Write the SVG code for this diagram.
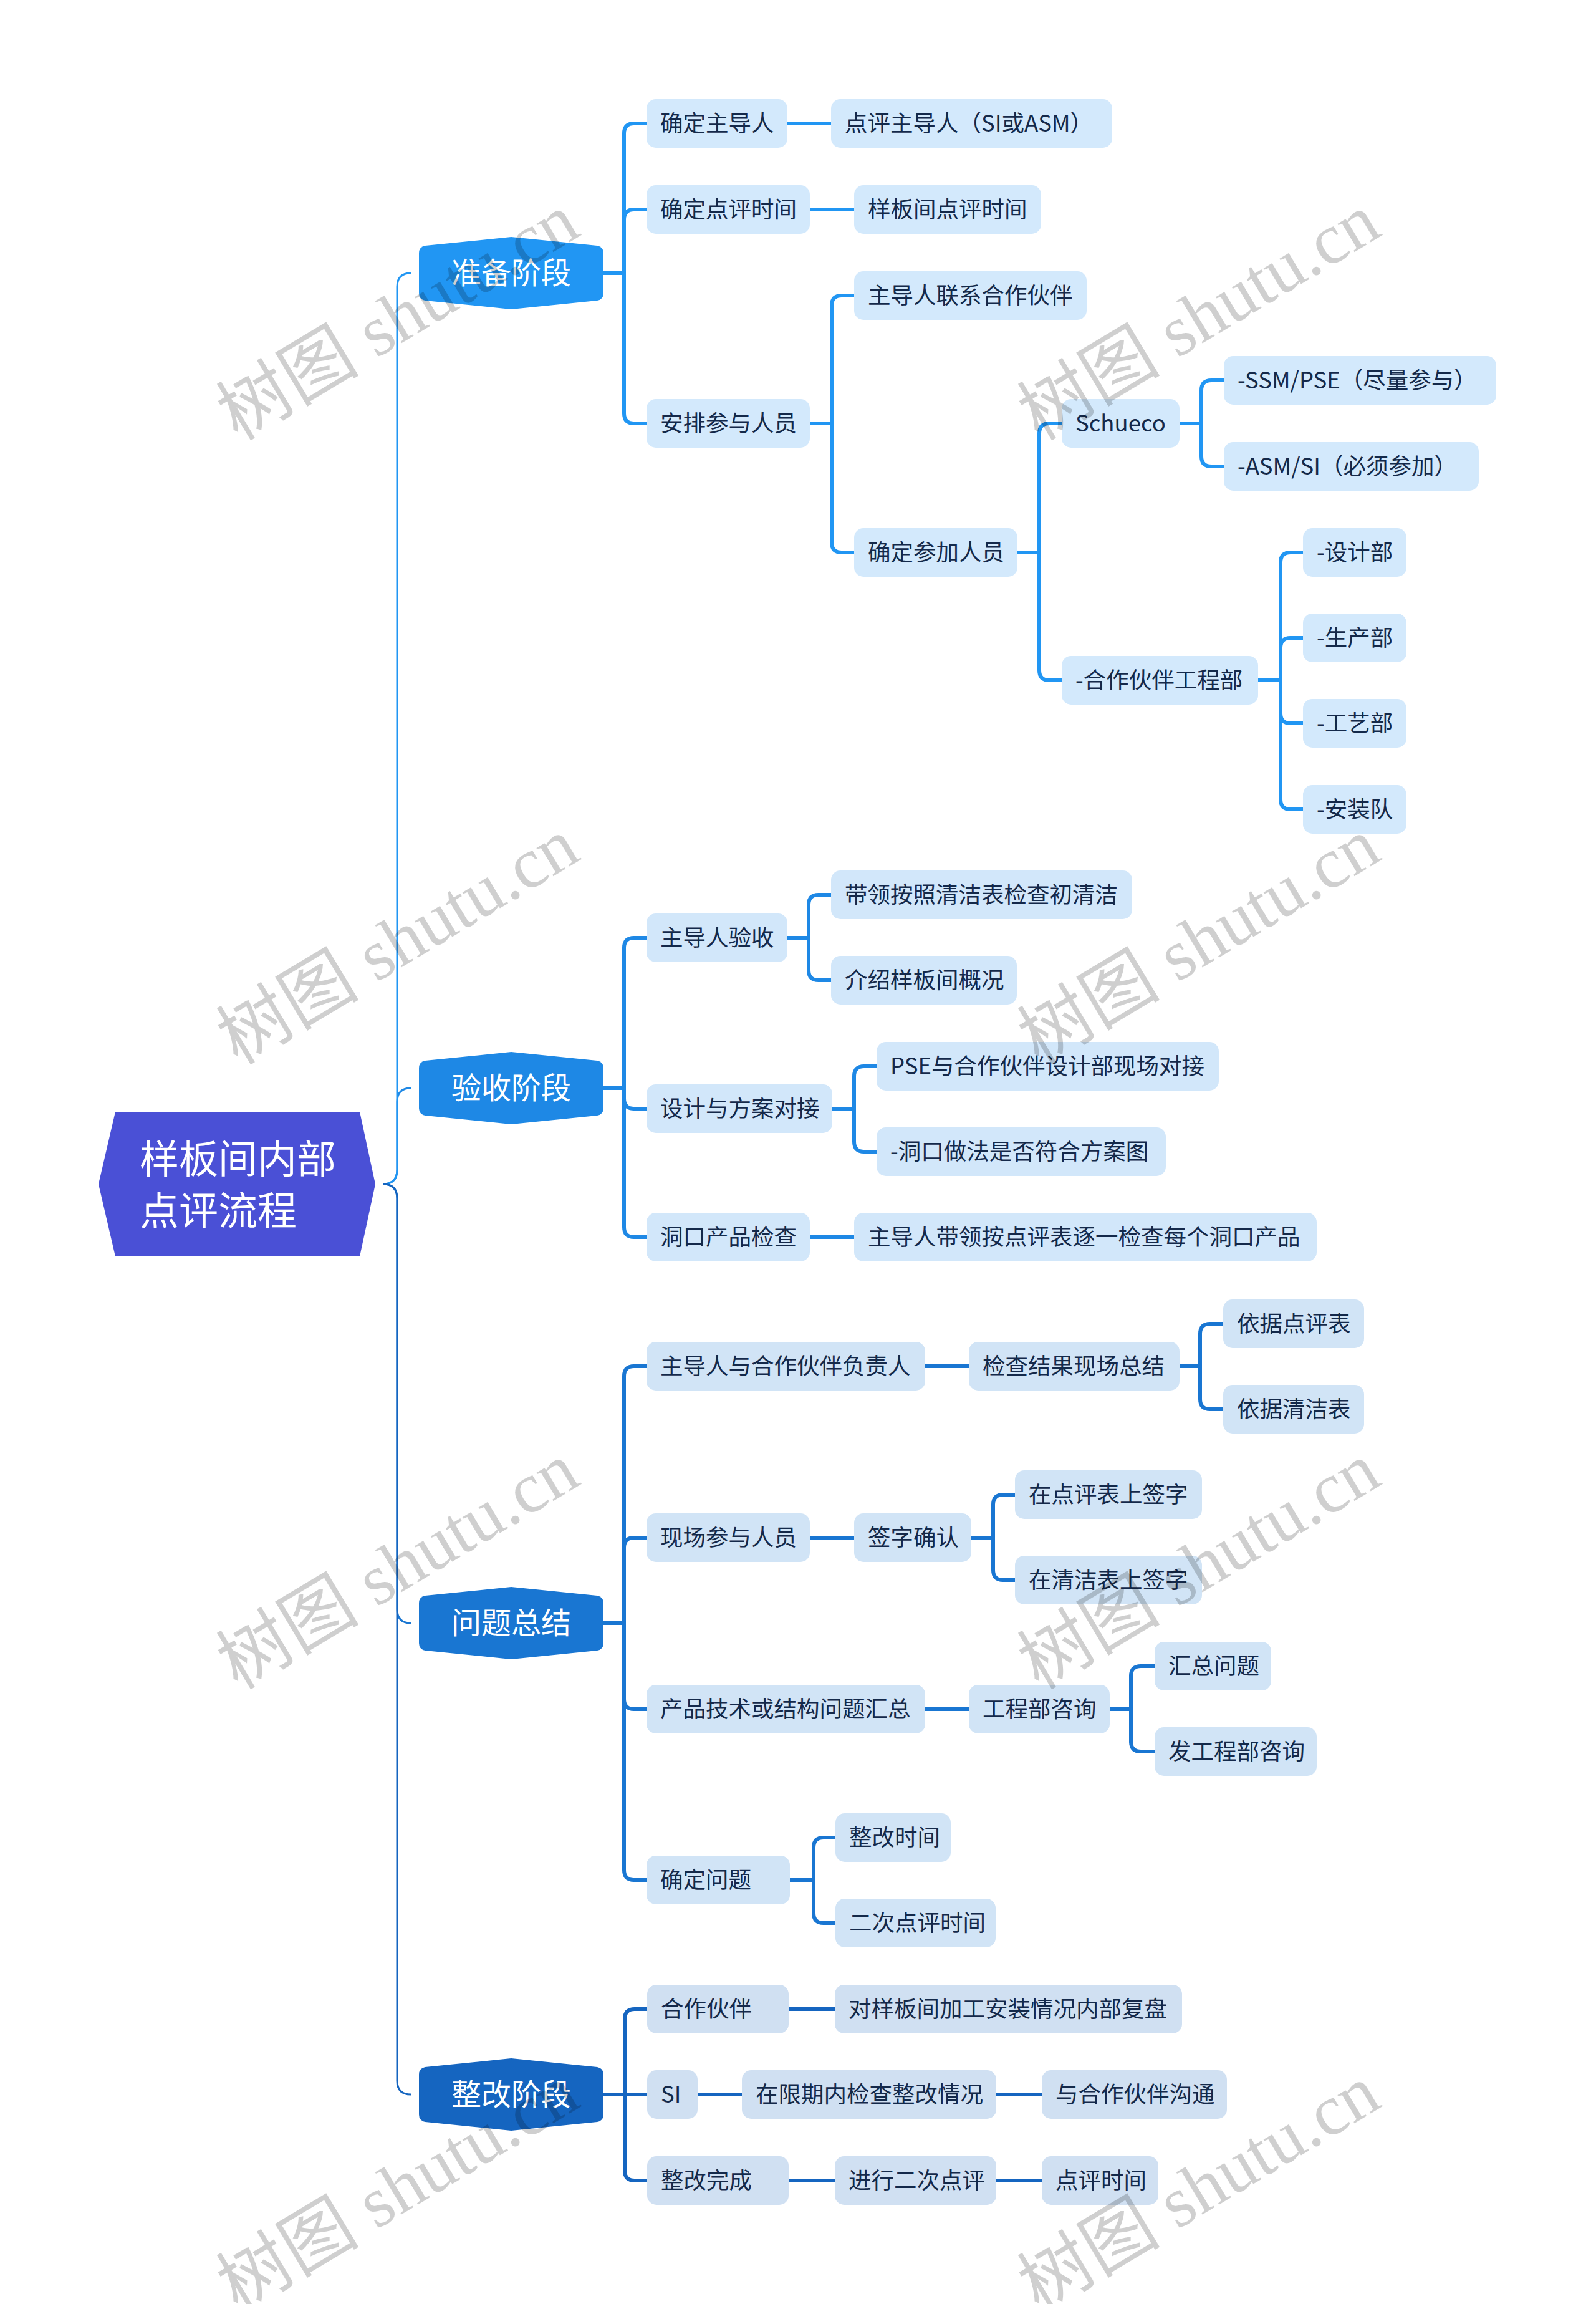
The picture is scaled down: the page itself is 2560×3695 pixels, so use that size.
<svg xmlns="http://www.w3.org/2000/svg" xmlns:xlink="http://www.w3.org/1999/xlink" width="2560" height="3695" viewBox="0 0 2560 3695">
<defs>
<style>
.t{font-family:"Noto Sans CJK SC","Noto Sans",sans-serif;font-size:36.5px;fill:#14294A}
.l1t{font-family:"Noto Sans CJK SC","Noto Sans",sans-serif;font-size:48px;fill:#FFFFFF;text-anchor:middle}
.rt{font-family:"Noto Sans CJK SC","Noto Sans",sans-serif;font-size:63px;fill:#FFFFFF}
.c{fill:none;stroke-width:6;stroke-linejoin:round}
.rc{fill:none;stroke-width:3}
.b1 rect{fill:#D3E9FC}
.b2 rect{fill:#D2E7FA}
.b3 rect{fill:#D1E4F6}
.b4 rect{fill:#D0E0F2}
.wm{font-family:"Liberation Serif","Noto Sans CJK SC",serif;font-size:115px;fill:#000;fill-opacity:0.19;text-anchor:middle}
</style>
<path id="l1shape" d="M -138,-44 L 0,-58 L 138,-44 Q 148,-42 148,-32 L 148,32 Q 148,42 138,44 L 0,58 L -138,44 Q -148,42 -148,32 L -148,-32 Q -148,-42 -138,-44 Z"/>
</defs>
<rect x="0" y="0" width="2560" height="3695" fill="#FFFFFF"/>

<g id="connectors">
<path class="rc" stroke="#1E88E5" d="M614,1899 Q637,1899 637,1876 V1767 Q637,1745 659,1745"/>
<path class="rc" stroke="#2196F3" d="M614,1899 Q637,1899 637,1876 V460 Q637,438 659,438"/>
<path class="rc" stroke="#1976D2" d="M614,1899 Q637,1899 637,1922 V2581 Q637,2603 659,2603"/>
<path class="rc" stroke="#1565C0" d="M614,1899 Q637,1899 637,1922 V3337 Q637,3359 659,3359"/>

<g stroke="#2196F3">
<path class="c" d="M968,438 H1001 V214 Q1001,198 1017,198 H1037"/>
<path class="c" d="M968,438 H1001 V352 Q1001,336 1017,336 H1037"/>
<path class="c" d="M968,438 H1001 V663 Q1001,679 1017,679 H1037"/>
<path class="c" d="M1263,198 H1333"/>
<path class="c" d="M1299,336 H1370"/>
<path class="c" d="M1299,679 H1334 V490 Q1334,474 1350,474 H1370"/>
<path class="c" d="M1299,679 H1334 V870 Q1334,886 1350,886 H1370"/>
<path class="c" d="M1632,886 H1667 V695 Q1667,679 1683,679 H1703"/>
<path class="c" d="M1632,886 H1667 V1075 Q1667,1091 1683,1091 H1703"/>
<path class="c" d="M1892,679 H1927 V626 Q1927,610 1943,610 H1963"/>
<path class="c" d="M1892,679 H1927 V732 Q1927,748 1943,748 H1963"/>
<path class="c" d="M2018,1091 H2054 V902 Q2054,886 2070,886 H2090"/>
<path class="c" d="M2018,1091 H2054 V1039 Q2054,1023 2070,1023 H2090"/>
<path class="c" d="M2018,1091 H2054 V1144 Q2054,1160 2070,1160 H2090"/>
<path class="c" d="M2018,1091 H2054 V1282 Q2054,1298 2070,1298 H2090"/>
</g>
<g stroke="#1E88E5">
<path class="c" d="M968,1745 H1001 V1520 Q1001,1504 1017,1504 H1037"/>
<path class="c" d="M968,1745 H1001 V1762 Q1001,1778 1017,1778 H1037"/>
<path class="c" d="M968,1745 H1001 V1968 Q1001,1984 1017,1984 H1037"/>
<path class="c" d="M1263,1504 H1297 V1451 Q1297,1435 1313,1435 H1333"/>
<path class="c" d="M1263,1504 H1297 V1556 Q1297,1572 1313,1572 H1333"/>
<path class="c" d="M1335,1778 H1370 V1726 Q1370,1710 1386,1710 H1406"/>
<path class="c" d="M1335,1778 H1370 V1831 Q1370,1847 1386,1847 H1406"/>
<path class="c" d="M1299,1984 H1370"/>
</g>
<g stroke="#1976D2">
<path class="c" d="M968,2603 H1001 V2207 Q1001,2191 1017,2191 H1037"/>
<path class="c" d="M968,2603 H1001 V2482 Q1001,2466 1017,2466 H1037"/>
<path class="c" d="M968,2603 H1001 V2725 Q1001,2741 1017,2741 H1037"/>
<path class="c" d="M968,2603 H1001 V2999 Q1001,3015 1017,3015 H1037"/>
<path class="c" d="M1484,2191 H1554"/>
<path class="c" d="M1892,2191 H1925 V2139 Q1925,2123 1941,2123 H1962"/>
<path class="c" d="M1892,2191 H1925 V2244 Q1925,2260 1941,2260 H1962"/>
<path class="c" d="M1299,2466 H1370"/>
<path class="c" d="M1558,2466 H1593 V2413 Q1593,2397 1609,2397 H1628"/>
<path class="c" d="M1558,2466 H1593 V2518 Q1593,2534 1609,2534 H1628"/>
<path class="c" d="M1484,2741 H1554"/>
<path class="c" d="M1780,2741 H1814 V2688 Q1814,2672 1830,2672 H1852"/>
<path class="c" d="M1780,2741 H1814 V2793 Q1814,2809 1830,2809 H1852"/>
<path class="c" d="M1267,3015 H1305 V2963 Q1305,2947 1321,2947 H1340"/>
<path class="c" d="M1267,3015 H1305 V3068 Q1305,3084 1321,3084 H1340"/>
</g>
<g stroke="#1565C0">
<path class="c" d="M968,3359 H1002 V3238 Q1002,3222 1018,3222 H1038"/>
<path class="c" d="M968,3359 H1038"/>
<path class="c" d="M968,3359 H1002 V3481 Q1002,3497 1018,3497 H1038"/>
<path class="c" d="M1265,3222 H1339"/>
<path class="c" d="M1119,3359 H1190"/>
<path class="c" d="M1598,3359 H1671"/>
<path class="c" d="M1265,3497 H1339"/>
<path class="c" d="M1598,3497 H1671"/>
</g>
</g>

<g id="root">
<polygon points="185,1783 577,1783 602,1899 577,2015 185,2015 158,1899" fill="#4A50D6"/>
<text class="rt" x="224" y="1881">样板间内部</text>
<text class="rt" x="224" y="1964">点评流程</text>
</g>

<g id="n-zhunbei" fill="#2196F3"><use xlink:href="#l1shape" x="820" y="438"/><text class="l1t" x="820" y="455">准备阶段</text></g>
<g id="n-yanshou" fill="#1E88E5"><use xlink:href="#l1shape" x="820" y="1745"/><text class="l1t" x="820" y="1762">验收阶段</text></g>
<g id="n-wenti" fill="#1976D2"><use xlink:href="#l1shape" x="820" y="2603"/><text class="l1t" x="820" y="2620">问题总结</text></g>
<g id="n-zhenggai" fill="#1565C0"><use xlink:href="#l1shape" x="820" y="3359"/><text class="l1t" x="820" y="3376">整改阶段</text></g>

<g class="b1">
<g id="n1"><rect x="1037" y="159" width="226" height="78" rx="15"/><text class="t" x="1059" y="211">确定主导人</text></g>
<g id="n2"><rect x="1333" y="159" width="451" height="78" rx="15"/><text class="t" x="1355" y="211">点评主导人（SI或ASM）</text></g>
<g id="n3"><rect x="1037" y="297" width="262" height="78" rx="15"/><text class="t" x="1059" y="349">确定点评时间</text></g>
<g id="n4"><rect x="1370" y="297" width="300" height="78" rx="15"/><text class="t" x="1392" y="349">样板间点评时间</text></g>
<g id="n5"><rect x="1037" y="640" width="262" height="78" rx="15"/><text class="t" x="1059" y="692">安排参与人员</text></g>
<g id="n6"><rect x="1370" y="435" width="373" height="78" rx="15"/><text class="t" x="1392" y="487">主导人联系合作伙伴</text></g>
<g id="n7"><rect x="1370" y="847" width="262" height="78" rx="15"/><text class="t" x="1392" y="899">确定参加人员</text></g>
<g id="n8"><rect x="1703" y="640" width="189" height="78" rx="15"/><text class="t" x="1725" y="692">Schueco</text></g>
<g id="n9"><rect x="1963" y="571" width="437" height="78" rx="15"/><text class="t" x="1985" y="623">-SSM/PSE（尽量参与）</text></g>
<g id="n10"><rect x="1963" y="709" width="409" height="78" rx="15"/><text class="t" x="1985" y="761">-ASM/SI（必须参加）</text></g>
<g id="n11"><rect x="1703" y="1052" width="315" height="78" rx="15"/><text class="t" x="1725" y="1104">-合作伙伴工程部</text></g>
<g id="n12"><rect x="2090" y="847" width="166" height="78" rx="15"/><text class="t" x="2112" y="899">-设计部</text></g>
<g id="n13"><rect x="2090" y="984" width="166" height="78" rx="15"/><text class="t" x="2112" y="1036">-生产部</text></g>
<g id="n14"><rect x="2090" y="1121" width="166" height="78" rx="15"/><text class="t" x="2112" y="1173">-工艺部</text></g>
<g id="n15"><rect x="2090" y="1259" width="166" height="78" rx="15"/><text class="t" x="2112" y="1311">-安装队</text></g>
</g>

<g class="b2">
<g id="n16"><rect x="1037" y="1465" width="226" height="78" rx="15"/><text class="t" x="1059" y="1517">主导人验收</text></g>
<g id="n17"><rect x="1333" y="1396" width="483" height="78" rx="15"/><text class="t" x="1355" y="1448">带领按照清洁表检查初清洁</text></g>
<g id="n18"><rect x="1333" y="1533" width="298" height="78" rx="15"/><text class="t" x="1355" y="1585">介绍样板间概况</text></g>
<g id="n19"><rect x="1037" y="1739" width="298" height="78" rx="15"/><text class="t" x="1059" y="1791">设计与方案对接</text></g>
<g id="n20"><rect x="1406" y="1671" width="549" height="78" rx="15"/><text class="t" x="1428" y="1723">PSE与合作伙伴设计部现场对接</text></g>
<g id="n21"><rect x="1406" y="1808" width="464" height="78" rx="15"/><text class="t" x="1428" y="1860">-洞口做法是否符合方案图</text></g>
<g id="n22"><rect x="1037" y="1945" width="262" height="78" rx="15"/><text class="t" x="1059" y="1997">洞口产品检查</text></g>
<g id="n23"><rect x="1370" y="1945" width="742" height="78" rx="15"/><text class="t" x="1392" y="1997">主导人带领按点评表逐一检查每个洞口产品</text></g>
</g>

<g class="b3">
<g id="n24"><rect x="1037" y="2152" width="447" height="78" rx="15"/><text class="t" x="1059" y="2204">主导人与合作伙伴负责人</text></g>
<g id="n25"><rect x="1554" y="2152" width="338" height="78" rx="15"/><text class="t" x="1576" y="2204">检查结果现场总结</text></g>
<g id="n26"><rect x="1962" y="2084" width="226" height="78" rx="15"/><text class="t" x="1984" y="2136">依据点评表</text></g>
<g id="n27"><rect x="1962" y="2221" width="226" height="78" rx="15"/><text class="t" x="1984" y="2273">依据清洁表</text></g>
<g id="n28"><rect x="1037" y="2427" width="262" height="78" rx="15"/><text class="t" x="1059" y="2479">现场参与人员</text></g>
<g id="n29"><rect x="1370" y="2427" width="188" height="78" rx="15"/><text class="t" x="1392" y="2479">签字确认</text></g>
<g id="n30"><rect x="1628" y="2358" width="300" height="78" rx="15"/><text class="t" x="1650" y="2410">在点评表上签字</text></g>
<g id="n31"><rect x="1628" y="2495" width="300" height="78" rx="15"/><text class="t" x="1650" y="2547">在清洁表上签字</text></g>
<g id="n32"><rect x="1037" y="2702" width="447" height="78" rx="15"/><text class="t" x="1059" y="2754">产品技术或结构问题汇总</text></g>
<g id="n33"><rect x="1554" y="2702" width="226" height="78" rx="15"/><text class="t" x="1576" y="2754">工程部咨询</text></g>
<g id="n34"><rect x="1852" y="2633" width="187" height="78" rx="15"/><text class="t" x="1874" y="2685">汇总问题</text></g>
<g id="n35"><rect x="1852" y="2770" width="260" height="78" rx="15"/><text class="t" x="1874" y="2822">发工程部咨询</text></g>
<g id="n36"><rect x="1037" y="2976" width="230" height="78" rx="15"/><text class="t" x="1059" y="3028">确定问题</text></g>
<g id="n37"><rect x="1340" y="2908" width="185" height="78" rx="15"/><text class="t" x="1362" y="2960">整改时间</text></g>
<g id="n38"><rect x="1340" y="3045" width="257" height="78" rx="15"/><text class="t" x="1362" y="3097">二次点评时间</text></g>
</g>

<g class="b4">
<g id="n39"><rect x="1038" y="3183" width="227" height="78" rx="15"/><text class="t" x="1060" y="3235">合作伙伴</text></g>
<g id="n40"><rect x="1339" y="3183" width="557" height="78" rx="15"/><text class="t" x="1361" y="3235">对样板间加工安装情况内部复盘</text></g>
<g id="n41"><rect x="1038" y="3320" width="81" height="78" rx="15"/><text class="t" x="1060" y="3372">SI</text></g>
<g id="n42"><rect x="1190" y="3320" width="408" height="78" rx="15"/><text class="t" x="1212" y="3372">在限期内检查整改情况</text></g>
<g id="n43"><rect x="1671" y="3320" width="297" height="78" rx="15"/><text class="t" x="1693" y="3372">与合作伙伴沟通</text></g>
<g id="n44"><rect x="1038" y="3458" width="227" height="78" rx="15"/><text class="t" x="1060" y="3510">整改完成</text></g>
<g id="n45"><rect x="1339" y="3458" width="259" height="78" rx="15"/><text class="t" x="1361" y="3510">进行二次点评</text></g>
<g id="n46"><rect x="1671" y="3458" width="187" height="78" rx="15"/><text class="t" x="1693" y="3510">点评时间</text></g>
</g>

<g id="watermarks">
<text class="wm" x="640" y="547" transform="rotate(-31 640 512)">树图 shutu.cn</text>
<text class="wm" x="1925" y="547" transform="rotate(-31 1925 512)">树图 shutu.cn</text>
<text class="wm" x="640" y="1548" transform="rotate(-31 640 1513)">树图 shutu.cn</text>
<text class="wm" x="1925" y="1548" transform="rotate(-31 1925 1513)">树图 shutu.cn</text>
<text class="wm" x="640" y="2550" transform="rotate(-31 640 2515)">树图 shutu.cn</text>
<text class="wm" x="1925" y="2550" transform="rotate(-31 1925 2515)">树图 shutu.cn</text>
<text class="wm" x="640" y="3548" transform="rotate(-31 640 3513)">树图 shutu.cn</text>
<text class="wm" x="1925" y="3548" transform="rotate(-31 1925 3513)">树图 shutu.cn</text>
</g>
</svg>
